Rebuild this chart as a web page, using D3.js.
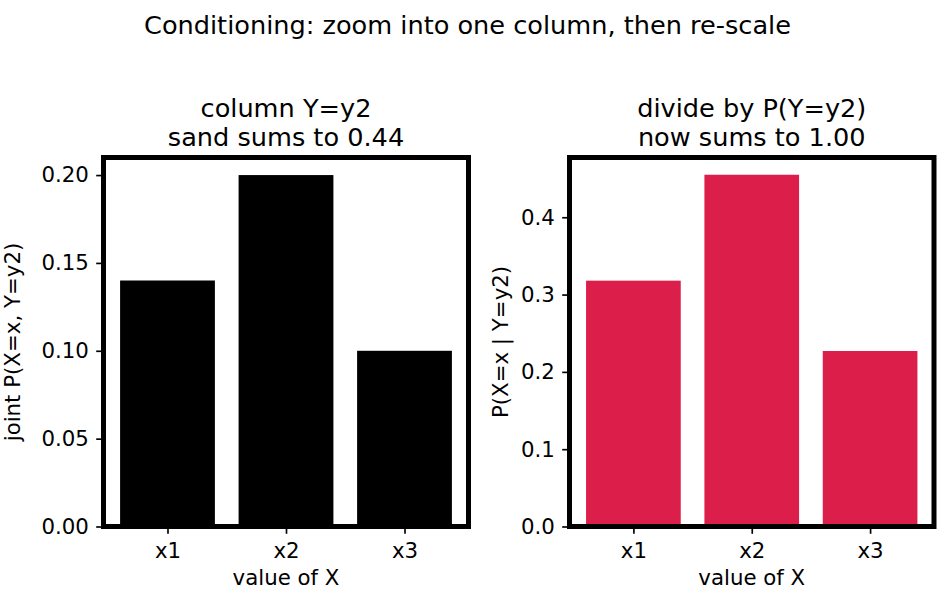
<!DOCTYPE html>
<html>
<head>
<meta charset="utf-8">
<script src="https://cdn.jsdelivr.net/npm/d3@7"></script>
<style>
  html, body { margin: 0; padding: 0; background: #fff; }
  svg { display: block; }
  text { font-family: "DejaVu Sans", sans-serif; fill: #000; }
</style>
</head>
<body>
<svg id="chart" width="947" height="602"></svg>
<script>
const categories = ["x1", "x2", "x3"];
const jointValues = [0.14, 0.20, 0.10];
const condValues = [0.318, 0.455, 0.227];
const leftTicks = [0.00, 0.05, 0.10, 0.15, 0.20];
const rightTicks = [0.0, 0.1, 0.2, 0.3, 0.4];
const suptitle = "Conditioning: zoom into one column, then re-scale";
const leftTitle = ["column Y=y2", "sand sums to 0.44"];
const rightTitle = ["divide by P(Y=y2)", "now sums to 1.00"];
const leftYLabel = "joint P(X=x, Y=y2)";
const rightYLabel = "P(X=x | Y=y2)";
const xLabel = "value of X";

const TITLE_FS = "25.6px";
const TICK_FS = "21.3px";

const svg = d3.select("#chart");
svg.append("rect").attr("width", 947).attr("height", 602).attr("fill", "#fff");

svg.append("text")
  .attr("x", 467.5).attr("y", 33.5)
  .attr("text-anchor", "middle")
  .style("font-size", TITLE_FS)
  .text(suptitle);

function panel(opts) {
  const { x0, x1, y0, y1, values, ticks, yMax, fmt, color, title, ylabel, ylabelX } = opts;
  const g = svg.append("g");
  const x = d3.scaleLinear().domain([-0.54, 2.54]).range([x0, x1]);
  const y = d3.scaleLinear().domain([0, yMax]).range([y1, y0]);

  g.selectAll("rect.bar").data(values).enter().append("rect")
    .attr("class", "bar")
    .attr("x", (d, i) => x(i - 0.4))
    .attr("width", (d, i) => x(i + 0.4) - x(i - 0.4))
    .attr("y", d => y(d))
    .attr("height", d => y(0) - y(d))
    .attr("fill", color);

  const ya = d3.axisLeft(y).tickValues(ticks).tickFormat(d3.format(fmt))
    .tickSizeInner(7.3).tickSizeOuter(0).tickPadding(7.3);
  const yg = g.append("g").attr("transform", `translate(${x0},0)`).call(ya);
  yg.select(".domain").remove();
  yg.selectAll(".tick line").attr("stroke", "#000").attr("stroke-width", 1.67);
  yg.selectAll(".tick text").style("font-size", TICK_FS).attr("fill", "#000");

  const xa = d3.axisBottom(x).tickValues([0, 1, 2]).tickFormat(i => categories[i])
    .tickSizeInner(7.3).tickSizeOuter(0).tickPadding(7.3);
  const xg = g.append("g").attr("transform", `translate(0,${y1})`).call(xa);
  xg.select(".domain").remove();
  xg.selectAll(".tick line").attr("stroke", "#000").attr("stroke-width", 1.67);
  xg.selectAll(".tick text").style("font-size", TICK_FS).attr("fill", "#000")
    .attr("dy", null).attr("y", 31);

  g.append("rect")
    .attr("x", x0).attr("y", y0)
    .attr("width", x1 - x0).attr("height", y1 - y0)
    .attr("fill", "none").attr("stroke", "#000").attr("stroke-width", 5);

  const cx = (x0 + x1) / 2;
  g.append("text").attr("x", cx).attr("y", 116.7).attr("text-anchor", "middle")
    .style("font-size", TITLE_FS).text(title[0]);
  g.append("text").attr("x", cx).attr("y", 146).attr("text-anchor", "middle")
    .style("font-size", TITLE_FS).text(title[1]);

  g.append("text").attr("x", cx).attr("y", 585).attr("text-anchor", "middle")
    .style("font-size", TICK_FS).text(xLabel);

  const cy = (y0 + y1) / 2;
  g.append("text")
    .attr("transform", `translate(${ylabelX},${cy}) rotate(-90)`)
    .attr("text-anchor", "middle")
    .style("font-size", TICK_FS).text(ylabel);
}

panel({ x0: 103.5, x1: 468.5, y0: 157.5, y1: 526.5, values: jointValues, ticks: leftTicks,
  yMax: 0.21, fmt: ".2f", color: "#000000", title: leftTitle, ylabel: leftYLabel, ylabelX: 19.5 });
panel({ x0: 569.5, x1: 934, y0: 157.5, y1: 526.5, values: condValues, ticks: rightTicks,
  yMax: 0.4773, fmt: ".1f", color: "#dc1e4a", title: rightTitle, ylabel: rightYLabel, ylabelX: 508 });
</script>
</body>
</html>
